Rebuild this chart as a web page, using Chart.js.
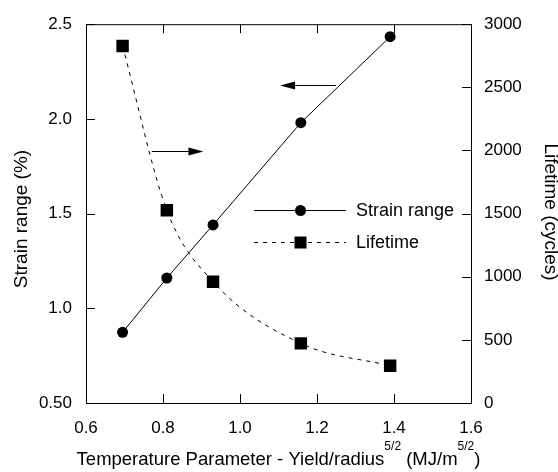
<!DOCTYPE html>
<html>
<head>
<meta charset="utf-8">
<script src="https://cdn.jsdelivr.net/npm/chart.js@4.4.0/dist/chart.umd.min.js"></script>
<style>
    html, body { margin: 0; padding: 0; background: #fff; }
    #wrap { width: 558px; height: 472px; }
</style>
</head>
<body>
<div id="wrap"><canvas id="chart"></canvas></div>
<script>
// Test results: temperature parameter vs strain range and lifetime
const tempParam = [0.695, 0.81, 0.93, 1.158, 1.39];
const strainRange = [0.873, 1.16, 1.44, 1.98, 2.434];
const lifetime = [2827, 1526, 961, 472, 295];

// Axis ticks
const xTicks = [0.6, 0.8, 1.0, 1.2, 1.4, 1.6];
const xTickLabels = ['0.6', '0.8', '1.0', '1.2', '1.4', '1.6'];
const strainTicks = [0.5, 1.0, 1.5, 2.0, 2.5];
const strainTickLabels = ['0.50', '1.0', '1.5', '2.0', '2.5'];
const lifeTicks = [0, 500, 1000, 1500, 2000, 2500, 3000];
const lifeTickLabels = ['0', '500', '1000', '1500', '2000', '2500', '3000'];

// Arrows showing which axis each curve belongs to (in strain-axis units)
const arrows = [
    { x0: 0.771, x1: 0.905, y: 1.833 },
    { x0: 1.249, x1: 1.104, y: 2.179 }
];

const FONT = "'Liberation Sans', Arial, sans-serif";

const strainPoints = tempParam.map((x, i) => ({ x: x, y: strainRange[i] }));
const lifePoints = tempParam.map((x, i) => ({ x: x, y: lifetime[i] }));

function fixTicks(values) {
    return function (scale) {
        scale.ticks = values.map(v => ({ value: v }));
    };
}

// inward tick marks, top border, arrows, legend and the axis titles
const decorPlugin = {
    id: 'decor',
    afterDraw(chart) {
        const ctx = chart.ctx;
        const area = chart.chartArea;
        const sx = chart.scales.x, sy = chart.scales.y, sy1 = chart.scales.y1;
        const TL = 9;

        ctx.save();
        ctx.strokeStyle = '#000';
        ctx.lineWidth = 1;

        // top border
        ctx.beginPath();
        ctx.moveTo(area.left, area.top + 0.5);
        ctx.lineTo(area.right, area.top + 0.5);
        ctx.stroke();

        ctx.beginPath();
        xTicks.forEach(v => {
            const px = Math.round(sx.getPixelForValue(v)) + 0.5;
            ctx.moveTo(px, area.bottom);
            ctx.lineTo(px, area.bottom - TL);
            ctx.moveTo(px, area.top);
            ctx.lineTo(px, area.top + TL);
        });
        strainTicks.forEach(v => {
            const py = Math.round(sy.getPixelForValue(v)) + 0.5;
            ctx.moveTo(area.left, py);
            ctx.lineTo(area.left + TL, py);
        });
        lifeTicks.forEach(v => {
            const py = Math.round(sy1.getPixelForValue(v)) + 0.5;
            ctx.moveTo(area.right, py);
            ctx.lineTo(area.right - TL, py);
        });
        ctx.stroke();

        // arrows
        ctx.fillStyle = '#000';
        arrows.forEach(a => {
            const x0 = sx.getPixelForValue(a.x0);
            const x1 = sx.getPixelForValue(a.x1);
            const y = Math.round(sy.getPixelForValue(a.y)) + 0.5;
            const dir = Math.sign(x1 - x0);
            const headLen = 15, headHalf = 4;
            ctx.beginPath();
            ctx.moveTo(x0, y);
            ctx.lineTo(x1 - dir * headLen, y);
            ctx.stroke();
            ctx.beginPath();
            ctx.moveTo(x1, y);
            ctx.lineTo(x1 - dir * headLen, y - headHalf);
            ctx.lineTo(x1 - dir * headLen, y + headHalf);
            ctx.closePath();
            ctx.fill();
        });

        // legend
        const lx0 = 254, lx1 = 346, mx = 300.5, tx = 356;
        const rows = [
            { y: 210.5, dash: [], marker: 'circle', label: 'Strain range' },
            { y: 242.5, dash: [4, 5], marker: 'square', label: 'Lifetime' }
        ];
        ctx.font = '18px ' + FONT;
        ctx.textBaseline = 'middle';
        ctx.textAlign = 'left';
        rows.forEach(r => {
            ctx.setLineDash(r.dash);
            ctx.beginPath();
            ctx.moveTo(lx0, r.y);
            ctx.lineTo(lx1, r.y);
            ctx.stroke();
            ctx.setLineDash([]);
            ctx.beginPath();
            if (r.marker === 'circle') {
                ctx.arc(mx, r.y, 5.5, 0, Math.PI * 2);
            } else {
                ctx.rect(mx - 6, r.y - 6, 12, 12);
            }
            ctx.fill();
            ctx.fillText(r.label, tx, r.y + 1);
        });

        // x axis title with superscripts
        const parts = [
            { t: 'Temperature Parameter - Yield/radius', sup: false },
            { t: '5/2', sup: true },
            { t: ' (MJ/m', sup: false },
            { t: '5/2', sup: true },
            { t: ')', sup: false }
        ];
        const mainFont = '18.5px ' + FONT, supFont = '12px ' + FONT;
        let total = 0;
        parts.forEach(p => {
            ctx.font = p.sup ? supFont : mainFont;
            p.w = ctx.measureText(p.t).width;
            total += p.w;
        });
        let cx = (area.left + area.right) / 2 - total / 2;
        const base = 465;
        ctx.textBaseline = 'alphabetic';
        parts.forEach(p => {
            ctx.font = p.sup ? supFont : mainFont;
            ctx.fillText(p.t, cx, p.sup ? base - 15 : base);
            cx += p.w;
        });

        // y axis titles
        ctx.font = '19px ' + FONT;
        ctx.textAlign = 'center';
        ctx.textBaseline = 'middle';
        ctx.save();
        ctx.translate(22, 219);
        ctx.rotate(-Math.PI / 2);
        ctx.fillText('Strain range (%)', 0, 0);
        ctx.restore();
        ctx.save();
        ctx.translate(550, 212);
        ctx.rotate(Math.PI / 2);
        ctx.fillText('Lifetime (cycles)', 0, 0);
        ctx.restore();

        ctx.restore();
    }
};

const chart = new Chart(document.getElementById('chart'), {
    type: 'scatter',
    data: {
        datasets: [
            {
                label: 'Strain range',
                data: strainPoints,
                yAxisID: 'y',
                showLine: true,
                borderColor: '#000',
                borderWidth: 1,
                backgroundColor: '#000',
                pointStyle: 'circle',
                pointRadius: 5.5,
                pointBorderWidth: 0,
                tension: 0
            },
            {
                label: 'Lifetime',
                data: lifePoints,
                yAxisID: 'y1',
                showLine: true,
                borderColor: '#000',
                borderWidth: 1,
                borderDash: [4, 5],
                backgroundColor: '#000',
                pointStyle: 'rect',
                pointRadius: 8.8,
                pointBorderWidth: 0,
                cubicInterpolationMode: 'monotone'
            }
        ]
    },
    options: {
        responsive: true,
        maintainAspectRatio: false,
        animation: false,
        layout: { padding: { top: 17, left: 0, right: 0, bottom: 0 } },
        plugins: {
            legend: { display: false },
            tooltip: { enabled: false }
        },
        scales: {
            x: {
                type: 'linear',
                min: 0.6,
                max: 1.6,
                afterBuildTicks: fixTicks(xTicks),
                afterFit(scale) { scale.height = 69; },
                grid: { display: false, drawTicks: false },
                border: { display: true, color: '#000', width: 1 },
                ticks: {
                    padding: 15,
                    color: '#000',
                    font: { family: FONT, size: 17 },
                    callback: (v, i) => xTickLabels[i]
                }
            },
            y: {
                type: 'linear',
                position: 'left',
                min: 0.5,
                max: 2.5,
                afterBuildTicks: fixTicks(strainTicks),
                afterFit(scale) { scale.width = 86; },
                grid: { display: false, drawTicks: false },
                border: { display: true, color: '#000', width: 1 },
                ticks: {
                    padding: 14,
                    color: '#000',
                    font: { family: FONT, size: 17 },
                    callback: (v, i) => strainTickLabels[i]
                }
            },
            y1: {
                type: 'linear',
                position: 'right',
                min: 0,
                max: 3000,
                afterBuildTicks: fixTicks(lifeTicks),
                afterFit(scale) { scale.width = 87; },
                grid: { display: false, drawTicks: false },
                border: { display: true, color: '#000', width: 1 },
                ticks: {
                    padding: 13,
                    color: '#000',
                    font: { family: FONT, size: 17 },
                    callback: (v, i) => lifeTickLabels[i]
                }
            }
        }
    },
    plugins: [decorPlugin]
});
</script>
</body>
</html>
